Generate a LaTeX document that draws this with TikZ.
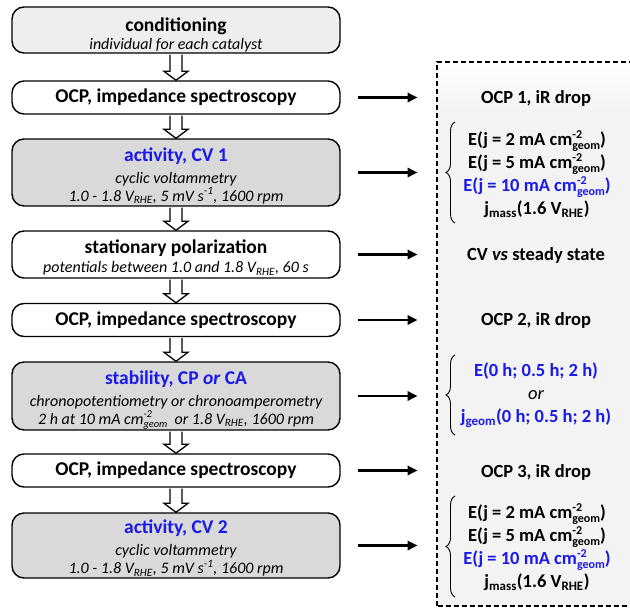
\documentclass[tikz,border=0pt]{standalone}
\usepackage{fontspec}
\usepackage{graphicx}
\setmainfont{Carlito}
\usetikzlibrary{decorations.pathreplacing,arrows.meta,calc}
\definecolor{bluetxt}{RGB}{25,25,235}
\definecolor{lightbox}{RGB}{238,238,238}
\definecolor{darkbox}{RGB}{217,217,217}
\definecolor{panel}{RGB}{243,243,243}
\newcommand{\cmgeom}{cm\rlap{\raisebox{0.40em}{\scalebox{0.65}{-2}}}\raisebox{-0.22em}{\scalebox{0.65}{geom}}}
\newcommand{\tf}{\fontsize{19.5}{20}\selectfont\bfseries}
\newcommand{\sff}{\itshape}
\newcommand{\up}[1]{\rule{0pt}{#1}}
\begin{document}
\begin{tikzpicture}[x=1pt,y=-1pt,
  box/.style={draw, line width=1.4pt, rounded corners=12pt, minimum width=328pt, align=center, inner sep=0pt,
    font=\fontsize{16}{18}\selectfont},
  small/.style={box, fill=white, minimum height=33pt},
  rtext/.style={font=\fontsize{18.5}{23}\selectfont\bfseries, align=center, inner sep=0pt},
  harrow/.style={draw, fill=white, line width=1.3pt, line join=miter},
  rarrow/.style={line width=2.6pt, -{Triangle[length=10pt,width=9pt]}},
  brc/.style={decorate, decoration={brace, amplitude=9pt}, line width=0.9pt}
]
\clip (0,0) rectangle (630,608);
\fill[white] (0,0) rectangle (630,608);
% right panel
\shade[top color=white, bottom color=panel] (437,62) rectangle (640,112);
\fill[panel] (437,112) rectangle (640,606);
\draw[line width=1.4pt, dash pattern=on 5pt off 3pt] (437,606) -- (437,62) -- (640,62) -- (640,606) -- cycle;

% left boxes
\node[box, fill=lightbox, minimum height=46pt] (b1) at (176,30)
  {{\tf\up{23pt}conditioning}\\{\sff individual for each catalyst}};
\node[small] (b2) at (176,97.5) {\tf OCP, impedance spectroscopy};
\node[box, fill=darkbox, minimum height=67pt] (b3) at (176,172.5)
  {{\tf\color{bluetxt}\up{20pt}activity, CV 1}\\[4pt]{\sff cyclic voltammetry}\\
   {\sff 1.0 - 1.8 V\textsubscript{RHE}, 5 mV s\textsuperscript{-1}, 1600 rpm}};
\node[box, fill=white, minimum height=47pt] (b4) at (176,254.5)
  {{\tf\up{20pt}stationary polarization}\\[1pt]{\sff potentials between 1.0 and 1.8 V\textsubscript{RHE}, 60 s}};
\node[small] (b5) at (176,320) {\tf OCP, impedance spectroscopy};
\node[box, fill=darkbox, minimum height=68pt] (b6) at (176,396)
  {{\tf\color{bluetxt}\up{22pt}stability, CP \textit{or} CA}\\[4pt]{\sff chronopotentiometry or chronoamperometry}\\
   {\sff 2 h at 10 mA \cmgeom\ \ or 1.8 V\textsubscript{RHE}, 1600 rpm}};
\node[small] (b7) at (176,470.5) {\tf OCP, impedance spectroscopy};
\node[box, fill=darkbox, minimum height=65pt] (b8) at (176,545.5)
  {{\tf\color{bluetxt}\up{19pt}activity, CV 2}\\[4pt]{\sff cyclic voltammetry}\\
   {\sff 1.0 - 1.8 V\textsubscript{RHE}, 5 mV s\textsuperscript{-1}, 1600 rpm}};

% hollow arrows
\foreach \a/\b in {b1/b2,b2/b3,b3/b4,b4/b5,b5/b6,b6/b7,b7/b8}{
  \path[harrow] ([xshift=-6pt,yshift=-0.8pt]\a.south) -- ([xshift=-6pt,yshift=9pt]\b.north)
    -- ([xshift=-12pt,yshift=9pt]\b.north) -- (\b.north) -- ([xshift=12pt,yshift=9pt]\b.north)
    -- ([xshift=6pt,yshift=9pt]\b.north) -- ([xshift=6pt,yshift=-0.8pt]\a.south);
}

% right texts
\node[rtext] (r1) at (536,98) {OCP 1, iR drop};
\node[rtext] (r2) at (537,174) {E(j = 2 mA \cmgeom)\\E(j = 5 mA \cmgeom)\\
  \color{bluetxt}E(j = 10 mA \cmgeom)\\j\textsubscript{mass}(1.6 V\textsubscript{RHE})};
\node[rtext] (r3) at (536,255) {CV \textit{vs} steady state};
\node[rtext] (r4) at (536,320) {OCP 2, iR drop};
\node[rtext, text=bluetxt] (r5) at (536,395) {E(0 h; 0.5 h; 2 h)\\{\color{black}\mdseries\itshape or}\\
  j\textsubscript{geom}(0 h; 0.5 h; 2 h)};
\node[rtext] (r6) at (536,472) {OCP 3, iR drop};
\node[rtext] (r7) at (537,547) {E(j = 2 mA \cmgeom)\\E(j = 5 mA \cmgeom)\\
  \color{bluetxt}E(j = 10 mA \cmgeom)\\j\textsubscript{mass}(1.6 V\textsubscript{RHE})};

% braces
\draw[brc] (455,223) -- (455,122);
\draw[brc] (455,435) -- (455,355);
\draw[brc] (455,597) -- (455,496);

% right arrows
\foreach \n in {b2,b3,b4,b5,b6,b7,b8}{
  \draw[rarrow] ([xshift=17pt]\n.east) -- ([xshift=77pt]\n.east);
}
\end{tikzpicture}
\end{document}
